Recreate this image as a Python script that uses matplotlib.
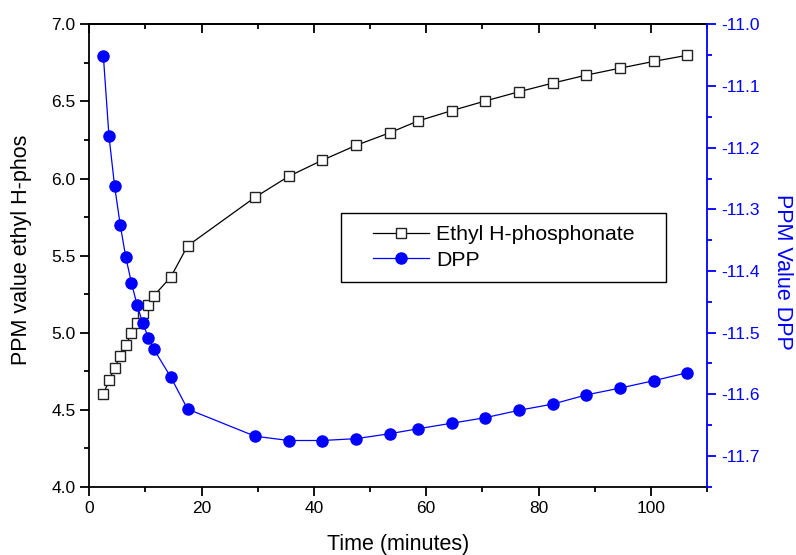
import matplotlib
matplotlib.use("Agg")
import matplotlib.pyplot as plt
from matplotlib.ticker import MultipleLocator, FormatStrFormatter
from matplotlib.patches import Rectangle

plt.rcParams['font.family'] = ['Liberation Sans', 'DejaVu Sans']
plt.rcParams['axes.unicode_minus'] = False

# time points (minutes)
time = [2.5, 3.5, 4.5, 5.5, 6.5, 7.5, 8.5, 9.5, 10.5, 11.5, 14.5, 17.5,
        29.5, 35.5, 41.5, 47.5, 53.5, 58.5, 64.5, 70.5, 76.5, 82.5,
        88.5, 94.5, 100.5, 106.5]

# ppm of ethyl H-phosphonate (left axis)
ethyl = [4.60, 4.69, 4.77, 4.85, 4.92, 4.995, 5.06, 5.125, 5.18, 5.24, 5.36, 5.563,
         5.878, 6.014, 6.119, 6.215, 6.297, 6.373, 6.44, 6.503, 6.563, 6.619,
         6.671, 6.716, 6.76, 6.80]

# ppm of DPP (right axis)
dpp = [-11.051, -11.181, -11.262, -11.325, -11.378, -11.419, -11.455, -11.484,
       -11.508, -11.527, -11.572, -11.624, -11.668, -11.675, -11.675, -11.672,
       -11.664, -11.656, -11.647, -11.638, -11.626, -11.616, -11.601, -11.590,
       -11.578, -11.565]

blue = '#0000ff'

fig = plt.figure(figsize=(7.96, 5.55), dpi=100)
ax = fig.add_axes([0.1122, 0.123, 0.776, 0.833])
ax2 = ax.twinx()

l1, = ax.plot(time, ethyl, color='black', lw=0.9, marker='s', ms=7.2,
              mfc='white', mec='#222222', mew=1.0, label='Ethyl H-phosphonate')
l2, = ax2.plot(time, dpp, color=blue, lw=0.9, marker='o', ms=8,
               mfc=blue, mec=blue, label='DPP')

ax.set_xlim(0, 110)
ax.set_ylim(4.0, 7.0)
ax2.set_ylim(-11.75, -11.0)

ax.xaxis.set_major_locator(MultipleLocator(20))
ax.xaxis.set_minor_locator(MultipleLocator(10))
ax.yaxis.set_major_locator(MultipleLocator(0.5))
ax.yaxis.set_minor_locator(MultipleLocator(0.25))
ax.yaxis.set_major_formatter(FormatStrFormatter('%.1f'))
ax2.yaxis.set_major_locator(MultipleLocator(0.1))
ax2.yaxis.set_minor_locator(MultipleLocator(0.05))
ax2.yaxis.set_major_formatter(FormatStrFormatter('%.1f'))

for s in ax.spines.values():
    s.set_linewidth(1.3)
ax.spines['right'].set_visible(False)
ax2.spines['left'].set_visible(False)
ax2.spines['top'].set_visible(False)
ax2.spines['bottom'].set_visible(False)
ax2.spines['right'].set_color(blue)
ax2.spines['right'].set_linewidth(1.3)

ax.tick_params(axis='both', which='major', direction='out', length=6.5, width=1.3,
               labelsize=12.5, top=False, right=False)
ax.tick_params(axis='both', which='minor', direction='out', length=3.5, width=1.3,
               top=False, right=False)
ax2.tick_params(axis='y', which='major', direction='out', length=6.5, width=1.3,
                colors=blue, labelsize=12.5)
ax2.tick_params(axis='y', which='minor', direction='out', length=3.5, width=1.3,
                colors=blue)

# inward ticks on the top spine
top = ax.secondary_xaxis('top')
top.xaxis.set_major_locator(MultipleLocator(20))
top.xaxis.set_minor_locator(MultipleLocator(10))
top.tick_params(which='major', direction='in', length=6.5, width=1.3, labeltop=False)
top.tick_params(which='minor', direction='in', length=3.5, width=1.3)
top.spines['top'].set_linewidth(1.3)

ax.set_xlabel('Time (minutes)', fontsize=15.5, labelpad=13)
ax.set_ylabel('PPM value ethyl H-phos', fontsize=15.5)
ax.yaxis.set_label_coords(-0.093, 0.512)
ax2.set_ylabel('PPM Value DPP', fontsize=15.5, color=blue, rotation=270, va='bottom')
ax2.yaxis.set_label_coords(1.105, 0.465)

# legend box drawn by hand, legend centred inside it
ax.add_patch(Rectangle((0.4075, 0.443), 0.5265, 0.149, transform=ax.transAxes,
                       fill=False, ec='black', lw=1.0, zorder=5))
ax2.legend([l1, l2], ['Ethyl H-phosphonate', 'DPP'], loc='center',
           bbox_to_anchor=(0.671, 0.5175), bbox_transform=ax.transAxes,
           frameon=False, fontsize=15.3, handlelength=2.65, handletextpad=0.3,
           labelspacing=0.3, borderpad=0)

fig.savefig('out.png', dpi=100)
